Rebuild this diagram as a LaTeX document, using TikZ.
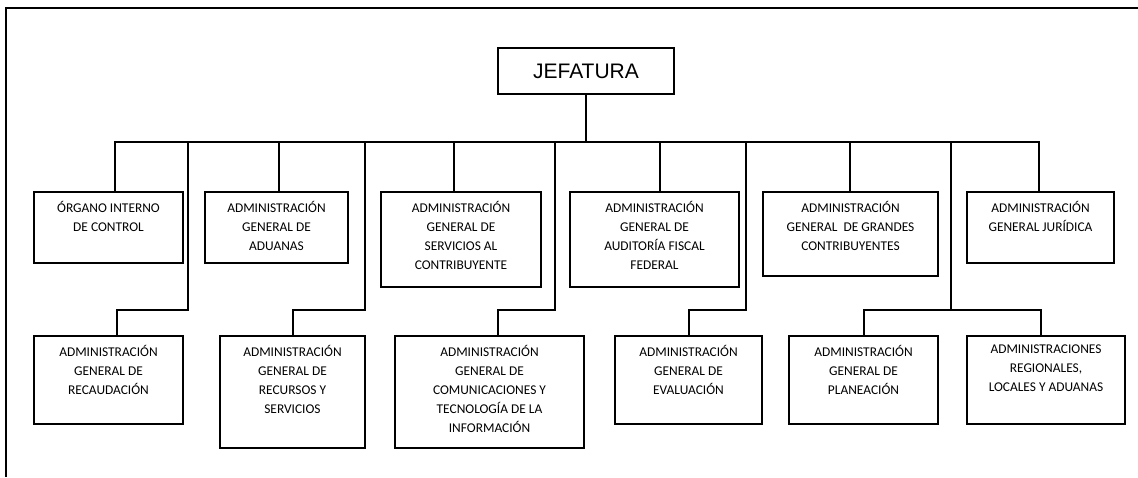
\documentclass[tikz,border=0pt]{standalone}
\usepackage{fontspec}
\setmainfont{Carlito}
\newfontfamily\arialfont{Liberation Sans}
\begin{document}
\begin{tikzpicture}[x=1pt,y=-1pt,
  orgbox/.style={draw=black,line width=2pt,inner sep=0pt,anchor=north west},
  orgtxt/.style={align=center,inner sep=0pt,anchor=north,font=\fontsize{13.4}{19}\selectfont,execute at begin node=\strut},
  link/.style={line width=2pt,line cap=rect}]
\useasboundingbox (0,0) rectangle (1138,477);
\draw[line width=2.8pt] (1138,8) -- (6,8) -- (6,477);
% head
\node[orgbox,minimum width=176pt,minimum height=46pt] (J) at (497,47) {};
\node[font=\arialfont\fontsize{21}{24}\selectfont,inner sep=0pt] (Jt) at (J.center) {JEFATURA};
% top row
\node[orgbox,minimum width=149pt,minimum height=71pt] (B1) at (33,191) {};
\node[orgbox,minimum width=143pt,minimum height=71pt] (B2) at (204,191) {};
\node[orgbox,minimum width=160pt,minimum height=95pt] (B3) at (380,191) {};
\node[orgbox,minimum width=169pt,minimum height=95pt] (B4) at (569,191) {};
\node[orgbox,minimum width=175pt,minimum height=84pt] (B5) at (762,191) {};
\node[orgbox,minimum width=147pt,minimum height=71pt] (B6) at (966,191) {};
% bottom row
\node[orgbox,minimum width=149pt,minimum height=88pt] (C1) at (33,335) {};
\node[orgbox,minimum width=145pt,minimum height=112pt] (C2) at (219,335) {};
\node[orgbox,minimum width=189pt,minimum height=112pt] (C3) at (394,335) {};
\node[orgbox,minimum width=147pt,minimum height=88pt] (C4) at (614,335) {};
\node[orgbox,minimum width=149pt,minimum height=88pt] (C5) at (788,335) {};
\node[orgbox,minimum width=158pt,minimum height=88pt] (C6) at (966,335) {};
% texts
\node[orgtxt] (B1t) at ([yshift=-10pt]B1.north) {ÓRGANO INTERNO\\DE CONTROL};
\node[orgtxt] (B2t) at ([yshift=-10pt]B2.north) {ADMINISTRACIÓN\\GENERAL DE\\ADUANAS};
\node[orgtxt] (B3t) at ([yshift=-10pt]B3.north) {ADMINISTRACIÓN\\GENERAL DE\\SERVICIOS AL\\CONTRIBUYENTE};
\node[orgtxt] (B4t) at ([yshift=-10pt]B4.north) {ADMINISTRACIÓN\\GENERAL DE\\AUDITORÍA FISCAL\\FEDERAL};
\node[orgtxt] (B5t) at ([yshift=-10pt]B5.north) {ADMINISTRACIÓN\\GENERAL\ \ DE GRANDES\\CONTRIBUYENTES};
\node[orgtxt] (B6t) at ([yshift=-10pt]B6.north) {ADMINISTRACIÓN\\GENERAL JURÍDICA};
\node[orgtxt] (C1t) at ([yshift=-10pt]C1.north) {ADMINISTRACIÓN\\GENERAL DE\\RECAUDACIÓN};
\node[orgtxt] (C2t) at ([yshift=-10pt]C2.north) {ADMINISTRACIÓN\\GENERAL DE\\RECURSOS Y\\SERVICIOS};
\node[orgtxt] (C3t) at ([yshift=-10pt]C3.north) {ADMINISTRACIÓN\\GENERAL DE\\COMUNICACIONES Y\\TECNOLOGÍA DE LA\\INFORMACIÓN};
\node[orgtxt] (C4t) at ([yshift=-10pt]C4.north) {ADMINISTRACIÓN\\GENERAL DE\\EVALUACIÓN};
\node[orgtxt] (C5t) at ([yshift=-10pt]C5.north) {ADMINISTRACIÓN\\GENERAL DE\\PLANEACIÓN};
\node[orgtxt] (C6t) at ([yshift=-10pt]C6.north) {ADMINISTRACIONES\\REGIONALES,\\LOCALES Y ADUANAS};
% bus
\coordinate (busL) at (115,142);
\coordinate (busR) at (1039,142);
\coordinate (k1) at (188,310);
\coordinate (k2) at (365,310);
\coordinate (k3) at (555,310);
\coordinate (k4) at (746,310);
\coordinate (k5) at (951,310);
\draw[link] (J.south) -- (J.south |- busL);
\draw[link] (busL) -- (busR);
\draw[link] (busL) -- (busL |- B1.north);
\draw[link] ([xshift=2pt]B2.north |- busL) -- ([xshift=2pt]B2.north);
\draw[link] ([xshift=-7pt]B3.north |- busL) -- ([xshift=-7pt]B3.north);
\draw[link] ([xshift=5pt]B4.north |- busL) -- ([xshift=5pt]B4.north);
\draw[link] ([xshift=-1pt]B5.north |- busL) -- ([xshift=-1pt]B5.north);
\draw[link] (busR) -- (B6.north -| busR);
% long branches
\draw[link] (k1 |- busL) -- (k1) -| ([xshift=8pt]C1.north);
\draw[link] (k2 |- busL) -- (k2) -| (C2.north);
\draw[link] (k3 |- busL) -- (k3) -| ([xshift=8pt]C3.north);
\draw[link] (k4 |- busL) -- (k4) -| (C4.north);
\draw[link] (k5 |- busL) -- (k5) -| (C5.north);
\draw[link] (k5) -| ([xshift=-5pt]C6.north);
\end{tikzpicture}
\end{document}
